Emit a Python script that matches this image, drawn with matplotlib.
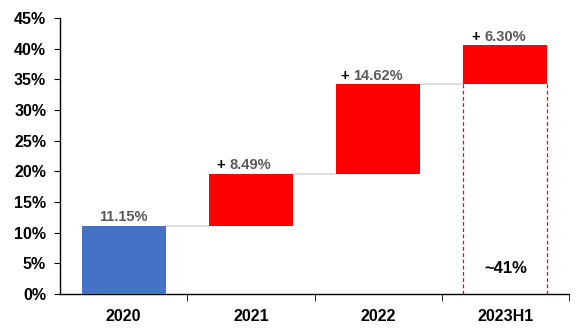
import matplotlib
matplotlib.use("Agg")
import matplotlib.pyplot as plt
from matplotlib.offsetbox import TextArea, HPacker, AnnotationBbox

plt.rcParams['font.family'] = ['Liberation Sans', 'DejaVu Sans']
plt.rcParams['font.weight'] = 'bold'

# datos
categorias = ['2020', '2021', '2022', '2023H1']
incrementos = [11.15, 8.49, 14.62, 6.30]
total_label = '~41%'

base = [0]
for v in incrementos[:-1]:
    base.append(base[-1] + v)
tops = [b + v for b, v in zip(base, incrementos)]
colores = ['#4472C4', '#FF0000', '#FF0000', '#FF0000']

fig = plt.figure(figsize=(5.86, 3.34), dpi=100)
ax = fig.add_axes([0.1024, 0.1198, 0.8686, 0.8263])

x = list(range(len(categorias)))
ancho = 0.66
ax.bar(x, incrementos, bottom=base, width=ancho, color=colores, zorder=3)

# lineas conectoras
for i in range(len(x) - 1):
    ax.plot([x[i] + ancho / 2, x[i + 1] - ancho / 2], [tops[i], tops[i]],
            color='#d9d9d9', lw=1.2, zorder=2)

# lineas discontinuas del ultimo periodo
ult = x[-1]
for xe in (ult - ancho / 2, ult + ancho / 2):
    ax.plot([xe, xe], [0, base[-1]], color='#FF0000', lw=0.9,
            linestyle=(0, (3, 2)), zorder=2)
ax.text(ult, 4.2, total_label, ha='center', va='center', fontsize=12,
        fontweight='bold', color='black')

# etiquetas
gris = '#595959'
for i, v in enumerate(incrementos):
    props_num = dict(color=gris, fontsize=10.5, fontweight='bold')
    if i == 0:
        partes = [TextArea(f'{v:.2f}%', textprops=props_num)]
    else:
        partes = [TextArea('+', textprops=dict(color='black', fontsize=10.5, fontweight='bold')),
                  TextArea(f'{v:.2f}%', textprops=props_num)]
    caja = HPacker(children=partes, align='baseline', pad=0, sep=3)
    ab = AnnotationBbox(caja, (x[i], tops[i]), xybox=(-5 if i else 0, 6),
                        xycoords='data', boxcoords='offset points',
                        frameon=False, box_alignment=(0.5, 0.5))
    ax.add_artist(ab)

ax.set_xlim(-0.5, len(categorias) - 0.5)
ax.set_ylim(0, 45)
ax.set_yticks(range(0, 46, 5))
ax.set_yticklabels([f'{t}%' for t in range(0, 46, 5)])
ax.set_xticks(x)
ax.set_xticklabels(categorias)
ax.set_xticks([i + 0.5 for i in x], minor=True)
ax.tick_params(axis='x', which='major', length=0, pad=11, labelsize=11.5)
ax.tick_params(axis='x', which='minor', length=5, direction='out', color='black')
ax.tick_params(axis='y', length=4, pad=6, labelsize=11.5, color='black')

for s in ('top', 'right'):
    ax.spines[s].set_visible(False)
for s in ('left', 'bottom'):
    ax.spines[s].set_color('black')
    ax.spines[s].set_linewidth(1)

plt.savefig('out.png', dpi=100)
